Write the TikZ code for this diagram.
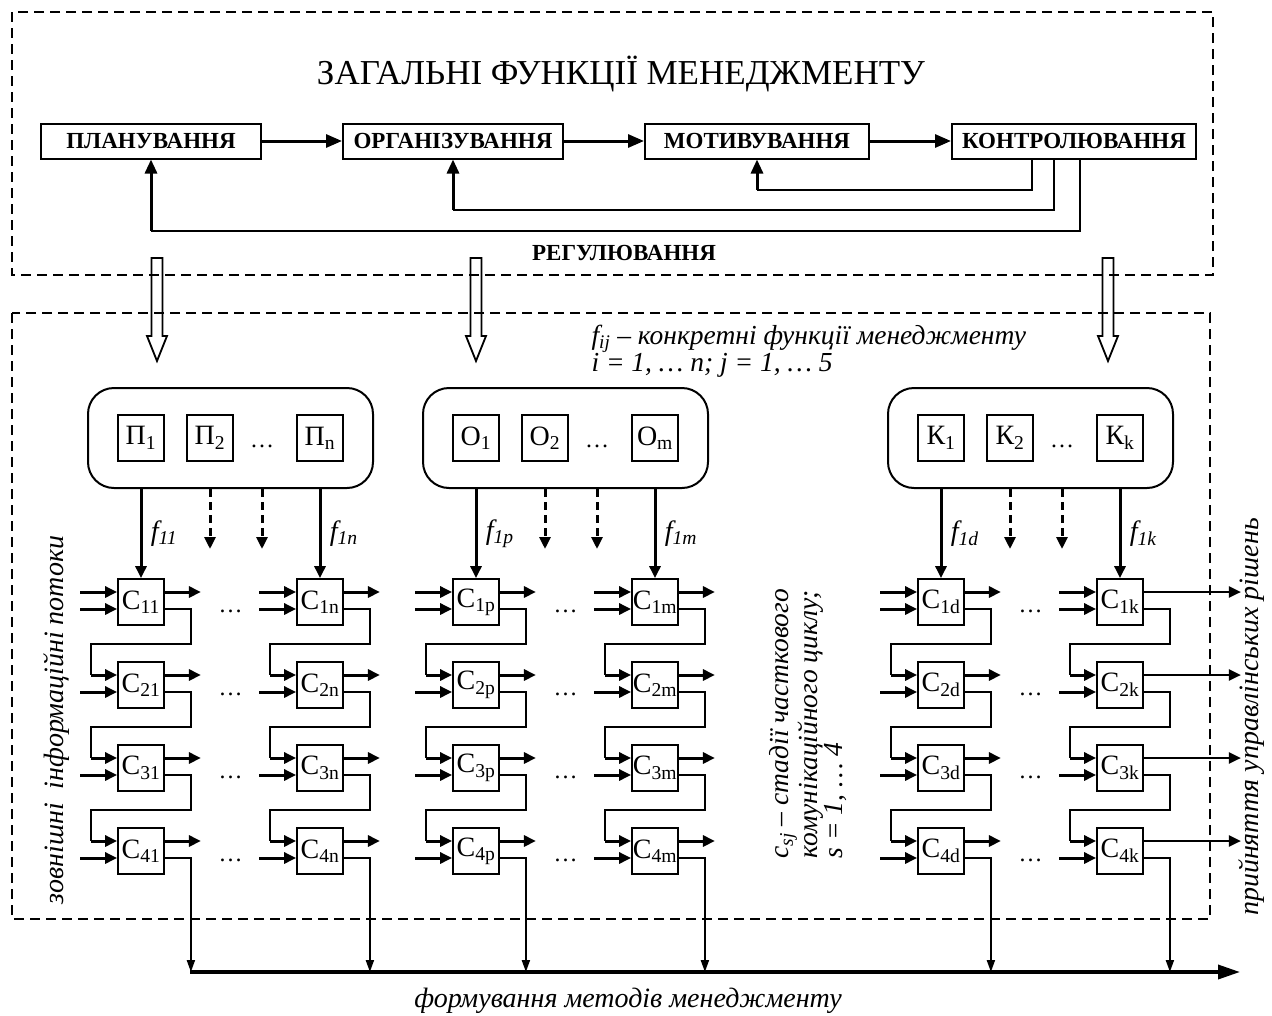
\documentclass[tikz,border=0pt]{standalone}
\usepackage{fontspec}
\setmainfont{Liberation Serif}
\usetikzlibrary{arrows.meta,calc}

\begin{document}
\begin{tikzpicture}[x=1pt, y=-1pt, >={Triangle[length=12pt,width=11pt]},
    frame/.style={line width=2.8pt, dash pattern=on 10pt off 6pt},
    fbox/.style={draw, line width=2pt, minimum height=35pt, inner sep=0pt,
      font=\fontsize{23}{26}\selectfont\bfseries},
    grp/.style={draw, line width=2pt, rounded corners=26pt, minimum height=100pt},
    sq/.style={draw, line width=1.8pt, minimum size=46pt, inner sep=0pt,
      font=\fontsize{28}{30}\selectfont},
    dots/.style={font=\fontsize{24}{26}\selectfont},
    thk/.style={line width=3pt, ->},
    link/.style={line width=2pt},
    fb/.style={line width=3pt, -{Triangle[length=14pt,width=12pt]}},
    flbl/.style={anchor=west, xshift=5pt, font=\fontsize{28}{30}\selectfont\itshape},
    note/.style={align=left, font=\fontsize{27.5}{25}\selectfont\itshape},
    side/.style={font=\fontsize{28}{30}\selectfont\itshape},
    hollow/.style={line width=1.8pt},
  ]

    \useasboundingbox (0,0) rectangle (1272,1015);

    % dashed frames
    \draw[frame] (12,12) rectangle (1213,275);
    \draw[frame] (12,313) rectangle (1210,919);

    % general functions
    \node[font=\fontsize{35}{40}\selectfont] (ttl) at (621,74) {ЗАГАЛЬНІ ФУНКЦІЇ МЕНЕДЖМЕНТУ};
    \node[fbox, minimum width=220pt] (plan) at (151,141) {ПЛАНУВАННЯ};
    \node[fbox, minimum width=220pt] (org) at (453,141) {ОРГАНІЗУВАННЯ};
    \node[fbox, minimum width=224pt] (motiv) at (757,141) {МОТИВУВАННЯ};
    \node[fbox, minimum width=244pt] (kontr) at (1074,141) {КОНТРОЛЮВАННЯ};
    \draw[line width=3pt, -{Triangle[length=16pt,width=13pt]}] (plan) -- (org);
    \draw[line width=3pt, -{Triangle[length=16pt,width=13pt]}] (org) -- (motiv);
    \draw[line width=3pt, -{Triangle[length=16pt,width=13pt]}] (motiv) -- (kontr);

    % regulation feedback
    \draw[link] ($(kontr.south)+(-42,0)$) |- ($(motiv.south)+(0,30)$) coordinate (fbM);
    \draw[fb] (fbM) -- (motiv.south);
    \draw[link] ($(kontr.south)+(-20,0)$) |- ($(org.south)+(0,50)$) coordinate (fbO);
    \draw[fb] (fbO) -- (org.south);
    \draw[link] ($(kontr.south)+(6,0)$) |- ($(plan.south)+(0,71)$) coordinate (fbP);
    \draw[fb] (fbP) -- (plan.south);
    \node[font=\fontsize{23}{26}\selectfont\bfseries] (reg) at (624,253) {РЕГУЛЮВАННЯ};

    % hollow arrows down
    \foreach \hx in {157,476,1108}
        \draw[hollow] ({\hx-5.5},258) -- ({\hx+5.5},258) -- ({\hx+5.5},336) -- ({\hx+10},336)
            -- (\hx,361) -- ({\hx-10},336) -- ({\hx-5.5},336) -- cycle;

    \node[note, anchor=west] (fij) at (588,351) {f\textsubscript{ij} – конкретні функції менеджменту\\i = 1, … n; j = 1, … 5};

    % stages c_sj
    \foreach \col/\cx in {1/141, n/320, p/476, m/655, d/941, k/1120} {
        \foreach \r/\cy in {1/602, 2/685, 3/768, 4/851}
            \node[sq] (c\r\col) at (\cx,\cy) {C\textsubscript{\r\col}};
    }

    % concrete functions
    \foreach \g/\lt/\last/\xa/\xb/\ca/\cb in {p/П/n/141/320/1/n, o/О/m/476/655/p/m, k/К/k/941/1120/d/k} {
        \node[grp, minimum width={\xb-\xa+106}] (grp\g) at ({(\xa+\xb)/2},438) {};
        \node[sq] (\g1) at (\xa,438) {\lt\textsubscript{1}};
        \node[sq] (\g2) at ({\xa+69},438) {\lt\textsubscript{2}};
        \node[dots] (\g dots) at ({\xa+121},446) {…};
        \node[sq] (\g\last) at (\xb,438) {\lt\textsubscript{\last}};
        \draw[thk] (grp\g.south -| c1\ca.north) -- (c1\ca.north) node[flbl, midway] {f\textsubscript{1\ca}};
        \draw[thk] (grp\g.south -| c1\cb.north) -- (c1\cb.north) node[flbl, midway] {f\textsubscript{1\cb}};
        \draw[thk, dash pattern=on 8pt off 5pt] (grp\g.south -| \g2.south) -- ++(0,60);
        \draw[thk, dash pattern=on 8pt off 5pt] (grp\g.south -| \g dots.south) -- ++(0,60);
    }

    % inputs, chain and outputs
    \foreach \col in {1,n,p,m,d,k} {
        \draw[thk] ($(c1\col.west)+(-37,-10)$) -- ($(c1\col.west)+(0,-10)$);
        \foreach \r in {1,...,4}
            \draw[thk] ($(c\r\col.west)+(-37,7)$) -- ($(c\r\col.west)+(0,7)$);
        \foreach \r/\s in {1/2, 2/3, 3/4} {
            \draw[link] ($(c\r\col.east)+(0,7)$) -| ($(c\s\col.north east)+(26,-17)$)
                -| ($(c\s\col.west)+(-26,-10)$) coordinate (j);
            \draw[thk] (j) -- ($(c\s\col.west)+(0,-10)$);
        }
    }
    \foreach \col in {1,n,p,m,d}
        \foreach \r in {1,...,4}
            \draw[thk] ($(c\r\col.east)+(0,-10)$) -- ++(36,0);
    \foreach \r in {1,...,4}
        \draw[line width=2.2pt, -{Triangle[length=12pt,width=11pt]}] ($(c\r k.east)+(0,-10)$) -- ++(97,0);

    % dots between columns
    \foreach \r in {1,...,4}
        \foreach \a/\b in {1/n, p/m, d/k}
            \node[dots] at ($(c\r\a.east)!0.5!(c\r\b.west)+(0,9)$) {…};

    % methods line
    \coordinate (baseL) at (190,972);
    \coordinate (baseR) at (1240,972);
    \draw[line width=3.5pt, -{Triangle[length=22pt,width=14pt]}] (baseL) -- (baseR);
    \foreach \col in {1,n,p,m,d,k}
        \draw[link, -{Triangle[length=12pt,width=8pt]}] ($(c4\col.east)+(0,7)$) -- ++(26,0) coordinate (t\col) -- (t\col |- baseL);

    % side texts
    \node[note, rotate=90, anchor=north west] (csj) at (766,862) {c\textsubscript{sj} – стадії часткового\\комунікаційного циклу;\\s = 1, … 4};
    \node[side, rotate=90] (extin) at (57,720) {зовнішні~ інформаційні потоки};
    \node[side, rotate=90] (decis) at (1252,717) {прийняття управлінських рішень};
    \node[side] (methods) at (628,1001) {формування методів менеджменту};

\end{tikzpicture}
\end{document}
